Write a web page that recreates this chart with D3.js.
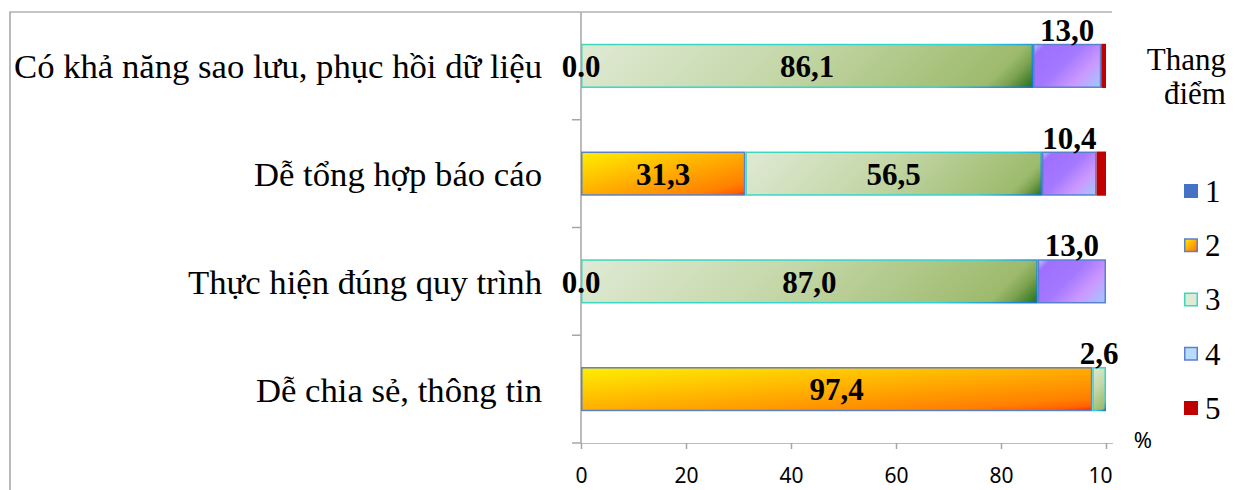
<!DOCTYPE html>
<html>
<head>
<meta charset="utf-8">
<script src="https://cdnjs.cloudflare.com/ajax/libs/d3/7.8.5/d3.min.js"></script>
<style>
    body { margin: 0; background: #fff; }
    svg { display: block; }
</style>
</head>
<body>
<div id="graph"></div>
<script>
/*
    Data
*/
var categories = [
    "Có khả năng sao lưu, phục hồi dữ liệu",
    "Dễ tổng hợp báo cáo",
    "Thực hiện đúng quy trình",
    "Dễ chia sẻ, thông tin"
]
var seriesNames = ["1", "2", "3", "4", "5"]
var score1 = [null, null, null, null]
var score2 = [0.0, 31.3, 0.0, 97.4]
var score3 = [86.1, 56.5, 87.0, 2.6]
var score4 = [13.0, 10.4, 13.0, null]
var score5 = [0.9, 1.8, null, null]
var xTicks = [0, 20, 40, 60, 80, 100]

var allSeries = [score1, score2, score3, score4, score5]

/*
    Styles for each series
    (box: gradient scales with the shape, otherwise a 45 degree gradient)
*/
var styles = [
    { fill: "#4472C4", stroke: null, stops: null },
    { stroke: "#5B80CC", box: true,
      stops: [[0, "#FFEE00"], [0.45, "#FFB400"], [0.85, "#FF8000"], [0.95, "#FF6000"], [1, "#FF2000"]] },
    { strokeStops: [[0, "#3CD8BC"], [0.8, "#2ED4D8"], [1, "#1470D0"]],
      stops: [[0, "#E0EAD5"], [0.45, "#C4D7A8"], [0.9, "#9DBA6C"], [0.94, "#7CA250"], [1, "#1F6E18"]] },
    { stroke: "#5B80CC",
      stops: [[0, "#B8DCFF"], [0.12, "#9F70FF"], [0.45, "#A478FF"], [0.72, "#CC99FF"], [1, "#99CCFF"]] },
    { fill: "#C00000", stroke: null, stops: null }
]

var W = 1235, H = 490

var svg = d3.select("#graph").append("svg")
            .attr("width", W)
            .attr("height", H)

var defs = svg.append("defs")

defs.append("clipPath")
    .attr("id", "chart-clip")
    .append("rect")
    .attr("x", 0).attr("y", 0)
    .attr("width", 1113).attr("height", H)

/*
    Scales
*/
var x = d3.scaleLinear()
          .domain([0, 100])
          .range([581, 1106])

var y = d3.scaleBand()
          .domain(categories)
          .range([12, 443])
          .paddingInner(0.59)
          .paddingOuter(0.295)

/*
    Frame (cropped on the right and bottom)
*/
svg.append("path")
    .attr("d", "M10," + H + "V12H1112")
    .attr("fill", "none")
    .attr("stroke", "#8C8C8C")
    .attr("stroke-width", 1.2)

/*
    Axes
*/
var axisColor = "#A6A6A6"

var yAxis = svg.append("g").attr("class", "y axis")
yAxis.append("line")
    .attr("x1", x(0)).attr("x2", x(0))
    .attr("y1", y.range()[0]).attr("y2", y.range()[1])
    .attr("stroke", axisColor)
    .attr("stroke-width", 1.5)

var boundaries = categories.map(function (c) {
    return y(c) + y.bandwidth() + (y.step() - y.bandwidth()) / 2
})
yAxis.selectAll("line.tick")
    .data(boundaries)
    .enter().append("line")
    .attr("class", "tick")
    .attr("x1", x(0) - 9).attr("x2", x(0))
    .attr("y1", function (d) { return d })
    .attr("y2", function (d) { return d })
    .attr("stroke", axisColor)
    .attr("stroke-width", 1.5)

var xAxis = svg.append("g")
    .attr("class", "x axis")
    .attr("clip-path", "url(#chart-clip)")
    .attr("transform", "translate(0," + y.range()[1] + ")")
    .call(d3.axisBottom(x)
            .tickValues(xTicks)
            .tickSize(6)
            .tickSizeOuter(0)
            .tickPadding(19))

xAxis.select(".domain")
    .attr("d", "M" + x(0) + ",0H1113")
    .attr("stroke", axisColor)
    .attr("stroke-width", 1.5)
xAxis.selectAll(".tick line")
    .attr("stroke", axisColor)
    .attr("stroke-width", 1.5)
xAxis.selectAll(".tick text")
    .attr("fill", "#000")
    .style("font-family", "'Noto Sans', 'Liberation Sans', sans-serif")
    .style("font-size", "21px")

svg.append("text")
    .attr("x", 1143)
    .attr("y", 448)
    .attr("text-anchor", "middle")
    .style("font-family", "'Noto Sans', 'Liberation Sans', sans-serif")
    .style("font-size", "22px")
    .text("%")

/*
    Category labels
*/
svg.selectAll("text.cat")
    .data(categories)
    .enter().append("text")
    .attr("class", "cat")
    .attr("x", 542)
    .attr("y", function (d) { return y(d) + y.bandwidth() / 2 })
    .attr("dy", "0.36em")
    .attr("text-anchor", "end")
    .style("font-family", "'Liberation Serif', 'Times New Roman', serif")
    .style("font-size", "34.7px")
    .text(function (d) { return d })

/*
    Stacked segments
*/
var segments = []
categories.forEach(function (c, ci) {
    var acc = 0
    allSeries.forEach(function (s, si) {
        var v = s[ci]
        if (v === null) return
        segments.push({ cat: c, series: si, value: v, x0: acc, x1: acc + v })
        acc += v
    })
})

function addGradient(id, stops, bx, by, bw, bh, box) {
    var g = defs.append("linearGradient").attr("id", id)
    if (box) {
        // diagonal of the bounding box
        g.attr("x1", 0).attr("y1", 0).attr("x2", 1).attr("y2", 1)
    } else {
        // 45 degree gradient that spans the shape
        g.attr("gradientUnits", "userSpaceOnUse")
         .attr("x1", bx).attr("y1", by)
         .attr("x2", bx + (bw + bh) / 2)
         .attr("y2", by + (bw + bh) / 2)
    }
    stops.forEach(function (s) {
        g.append("stop").attr("offset", s[0]).attr("stop-color", s[1])
    })
    return "url(#" + id + ")"
}

var bars = svg.append("g").attr("class", "bars")

segments.forEach(function (d, i) {
    var st = styles[d.series]
    var bx = x(d.x0), by = y(d.cat)
    var bw = x(d.x1) - x(d.x0), bh = y.bandwidth()
    if (bw <= 0) return

    var fill = st.fill
    if (st.stops) fill = addGradient("fill-" + i, st.stops, bx, by, bw, bh, st.box)
    var stroke = st.stroke
    if (st.strokeStops) stroke = addGradient("stroke-" + i, st.strokeStops, bx, by, bw, bh)

    bars.append("rect")
        .attr("class", "bar")
        .attr("x", bx + (stroke ? 0.75 : 0))
        .attr("y", by + (stroke ? 0.75 : 0))
        .attr("width", bw - (stroke ? 1.5 : 0))
        .attr("height", bh - (stroke ? 1.5 : 0))
        .attr("fill", fill)
        .attr("stroke", stroke || "none")
        .attr("stroke-width", 1.5)
})

/*
    Value labels
*/
var fmt = d3.format(".1f")
var labelled = segments.filter(function (d) {
    return d.series >= 1 && d.series <= 3
})

function isAbove(d) {
    return d.series === 3 || (d.value < 5 && d.value > 0)
}

svg.selectAll("text.value")
    .data(labelled)
    .enter().append("text")
    .attr("class", "value")
    .attr("x", function (d) { return (x(d.x0) + x(d.x1)) / 2 })
    .attr("y", function (d) {
        return isAbove(d) ? y(d.cat) - 3 : y(d.cat) + y.bandwidth() / 2
    })
    .attr("dy", function (d) { return isAbove(d) ? 0 : "0.36em" })
    .attr("text-anchor", "middle")
    .style("font-family", "'Liberation Serif', 'Times New Roman', serif")
    .style("font-size", "31px")
    .style("font-weight", "bold")
    .text(function (d) {
        return d.value === 0 ? "0.0" : fmt(d.value).replace(".", ",")
    })

/*
    Legend
*/
var legend = svg.append("g").attr("class", "legend")

legend.selectAll("text.title")
    .data(["Thang", "điểm"])
    .enter().append("text")
    .attr("class", "title")
    .attr("x", 1226)
    .attr("y", function (d, i) { return 70 + i * 34 })
    .attr("text-anchor", "end")
    .style("font-family", "'Liberation Serif', 'Times New Roman', serif")
    .style("font-size", "31px")
    .text(function (d) { return d })

var legendY = d3.scalePoint()
    .domain(seriesNames)
    .range([191, 408])

var items = legend.selectAll("g.item")
    .data(seriesNames)
    .enter().append("g")
    .attr("class", "item")
    .attr("transform", function (d) { return "translate(1184," + legendY(d) + ")" })

items.each(function (d, i) {
    var g = d3.select(this)
    var st = styles[i]
    var fill = st.fill
    var ax = 1184, ay = legendY(d) - 7
    if (st.stops) fill = addGradient("leg-fill-" + i, st.stops, ax, ay, 14, 14, st.box)
    var stroke = st.stroke
    if (st.strokeStops) stroke = addGradient("leg-stroke-" + i, st.strokeStops, ax, ay, 14, 14)
    g.append("rect")
        .attr("x", stroke ? 0.75 : 0)
        .attr("y", -7 + (stroke ? 0.75 : 0))
        .attr("width", stroke ? 12.5 : 14)
        .attr("height", stroke ? 12.5 : 14)
        .attr("fill", fill)
        .attr("stroke", stroke || "none")
        .attr("stroke-width", 1.5)
    g.append("text")
        .attr("x", 21)
        .attr("y", 0)
        .attr("dy", "0.35em")
        .style("font-family", "'Liberation Serif', 'Times New Roman', serif")
        .style("font-size", "31px")
        .text(d)
})
</script>
</body>
</html>
